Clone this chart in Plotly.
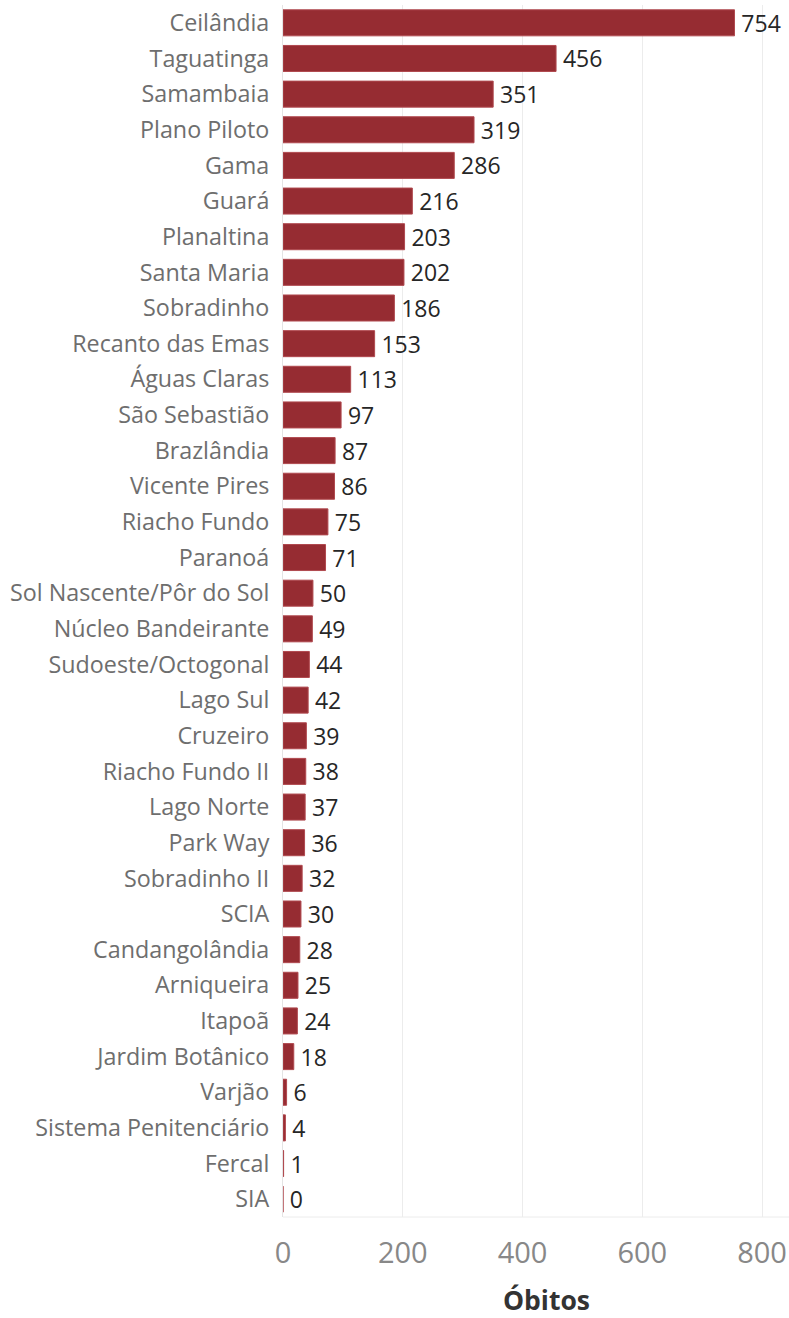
import plotly.graph_objects as go

regions = ["Ceilândia", "Taguatinga", "Samambaia", "Plano Piloto", "Gama", "Guará",
           "Planaltina", "Santa Maria", "Sobradinho", "Recanto das Emas", "Águas Claras",
           "São Sebastião", "Brazlândia", "Vicente Pires", "Riacho Fundo", "Paranoá",
           "Sol Nascente/Pôr do Sol", "Núcleo Bandeirante", "Sudoeste/Octogonal", "Lago Sul",
           "Cruzeiro", "Riacho Fundo II", "Lago Norte", "Park Way", "Sobradinho II", "SCIA",
           "Candangolândia", "Arniqueira", "Itapoã", "Jardim Botânico", "Varjão",
           "Sistema Penitenciário", "Fercal", "SIA"]
obitos = [754, 456, 351, 319, 286, 216, 203, 202, 186, 153, 113, 97, 87, 86, 75, 71,
          50, 49, 44, 42, 39, 38, 37, 36, 32, 30, 28, 25, 24, 18, 6, 4, 1, 0]
x_ticks = [0, 200, 400, 600, 800]

fig = go.Figure(go.Bar(
    x=obitos, y=regions, orientation="h",
    marker=dict(color="#962c32", line=dict(color="#b0494f", width=1)),
    text=["\u2009" + str(v) for v in obitos], textposition="outside",
    constraintext="none",
    textfont=dict(family="Open Sans", size=23, color="#262626", weight=500),
    cliponaxis=False, width=0.73,
))

fig.update_layout(
    width=789, height=1318,
    margin=dict(l=283, r=0, t=5, b=101, autoexpand=False),
    plot_bgcolor="white", paper_bgcolor="white",
    showlegend=False,
    font=dict(family="Open Sans"),
)
fig.update_xaxes(
    range=[0, 845], tickvals=x_ticks, showgrid=True, gridcolor="#ececec", gridwidth=1,
    zeroline=False, showline=False, automargin=False,
    tickfont=dict(size=29, color="#888"), ticks="", ticklabelstandoff=16,
)
fig.update_yaxes(
    categoryorder="array", categoryarray=regions, autorange="reversed",
    tickfont=dict(size=23.3, color="#6e6e6e"), ticks="", showgrid=False, automargin=False,
    showline=True, linecolor="#e4e4e4", linewidth=1, ticklabelstandoff=8,
)
fig.add_shape(type="line", xref="paper", yref="paper", x0=0, x1=1, y0=0, y1=0,
              line=dict(color="#ececec", width=1))
fig.add_annotation(text="<b>Óbitos</b>", xref="paper", yref="paper",
                   x=0.52, y=0, yshift=-83, xanchor="center", yanchor="middle",
                   showarrow=False, font=dict(size=26.5, color="#333"))

fig.write_html("out.html", config={"displayModeBar": False},
               post_script="document.body.style.margin='0';")
